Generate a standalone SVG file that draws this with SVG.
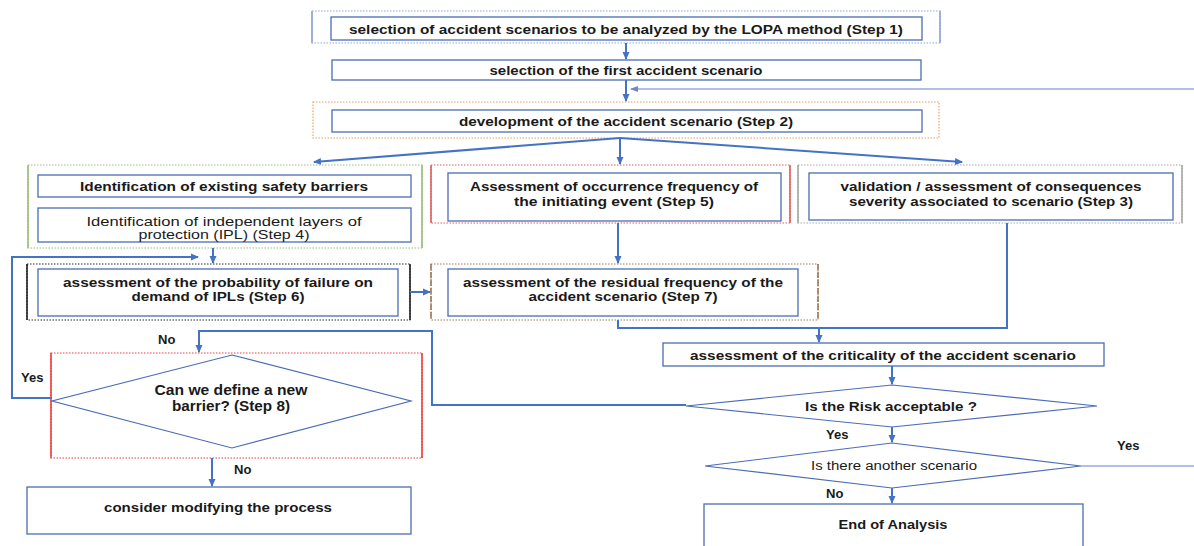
<svg xmlns="http://www.w3.org/2000/svg" width="1194" height="546" viewBox="0 0 1194 546">
<defs>
<marker id="ah" markerWidth="8" markerHeight="8" refX="7" refY="4" orient="auto" markerUnits="userSpaceOnUse">
<path d="M0,0.5 L8,4 L0,7.5 Z" fill="#4472C4"/>
</marker>
<marker id="ahl" markerWidth="8" markerHeight="8" refX="7" refY="4" orient="auto" markerUnits="userSpaceOnUse">
<path d="M0,1 L8,4 L0,7 Z" fill="#6f86cc"/>
</marker>
<style>
.box{fill:#fff;stroke:#4a6db5;stroke-width:1.3}
.dia{fill:#fff;stroke:#4a6db5;stroke-width:1.2}
.out{fill:none;stroke-width:1.2;stroke-dasharray:1.5 1.5}
.side{stroke-width:1.6;fill:none}
.t{font-family:"Liberation Sans",Arial,sans-serif;font-size:13.5px;font-weight:bold;fill:#1a1a1a;text-anchor:middle}
.n{font-weight:normal}
.big{font-size:14px}
.sm{font-size:12px}
.c{fill:none;stroke:#4472C4;stroke-width:2}
.cl{fill:none;stroke:#9aa8dc;stroke-width:1.3}
.lab{font-family:"Liberation Sans",Arial,sans-serif;font-size:13px;font-weight:bold;fill:#1a1a1a}
</style>
</defs>
<rect width="1194" height="546" fill="#fff"/>

<g id="step1">
<rect class="out" x="312" y="11" width="628" height="32" stroke="#8fa3d6"/>
<line class="side" x1="312" y1="11" x2="312" y2="43" stroke="#8fa3d6"/>
<line class="side" x1="940" y1="11" x2="940" y2="43" stroke="#8fa3d6"/>
<rect class="box" x="331" y="17" width="591" height="23"/>
<text class="t" x="626" y="33.5" textLength="554" lengthAdjust="spacingAndGlyphs">selection of accident scenarios to be analyzed by the LOPA method (Step 1)</text>
</g>

<g id="first">
<rect class="box" x="332" y="60" width="589" height="20"/>
<text class="t" x="626" y="75" textLength="273" lengthAdjust="spacingAndGlyphs">selection of the first accident scenario</text>
</g>

<g id="step2">
<rect class="out" x="313" y="102" width="626" height="36" stroke="#f0a060"/>
<rect class="box" x="332" y="110" width="590" height="22"/>
<text class="t" x="626" y="126" textLength="334" lengthAdjust="spacingAndGlyphs">development of the accident scenario (Step 2)</text>
</g>

<g id="step4">
<rect class="out" x="28" y="165" width="394" height="83" stroke="#9cbb7c"/>
<line class="side" x1="28" y1="165" x2="28" y2="248" stroke="#9cbb7c"/>
<line class="side" x1="422" y1="165" x2="422" y2="248" stroke="#9cbb7c"/>
<rect class="box" x="38" y="175" width="373" height="22"/>
<text class="t" x="224" y="191" textLength="288" lengthAdjust="spacingAndGlyphs">Identification of existing safety barriers</text>
<rect class="box" x="38" y="208" width="373" height="34"/>
<text class="t n" x="224" y="225.5" textLength="275" lengthAdjust="spacingAndGlyphs">Identification of independent layers of</text>
<text class="t n" x="224" y="239" textLength="171" lengthAdjust="spacingAndGlyphs">protection (IPL) (Step 4)</text>
</g>

<g id="step5">
<rect class="out" x="431" y="165" width="359" height="58" stroke="#e06060"/>
<line class="side" x1="431" y1="165" x2="431" y2="223" stroke="#e06060"/>
<line class="side" x1="790" y1="165" x2="790" y2="223" stroke="#e06060"/>
<rect class="box" x="448" y="173" width="333" height="48"/>
<text class="t" x="614" y="190.5" textLength="288" lengthAdjust="spacingAndGlyphs">Assessment of occurrence frequency of</text>
<text class="t" x="614" y="205.5" textLength="200" lengthAdjust="spacingAndGlyphs">the initiating event (Step 5)</text>
</g>

<g id="step3">
<rect class="out" x="798" y="165" width="384" height="58" stroke="#a8a8a8"/>
<line class="side" x1="798" y1="165" x2="798" y2="223" stroke="#a8a8a8"/>
<line class="side" x1="1182" y1="165" x2="1182" y2="223" stroke="#a8a8a8"/>
<rect class="box" x="809" y="173" width="364" height="47"/>
<text class="t" x="991" y="190.5" textLength="301" lengthAdjust="spacingAndGlyphs">validation / assessment of consequences</text>
<text class="t" x="991" y="205.5" textLength="284" lengthAdjust="spacingAndGlyphs">severity associated to scenario (Step 3)</text>
</g>

<g id="step6">
<rect class="out" x="27" y="264" width="383" height="56" stroke="#333"/>
<line class="side" x1="27" y1="264" x2="27" y2="320" stroke="#222"/>
<line class="side" x1="410" y1="264" x2="410" y2="320" stroke="#222"/>
<rect class="box" x="38" y="269" width="360" height="47"/>
<text class="t" x="218" y="286.5" textLength="310" lengthAdjust="spacingAndGlyphs">assessment of the probability of failure on</text>
<text class="t" x="218" y="300.5" textLength="173" lengthAdjust="spacingAndGlyphs">demand of IPLs (Step 6)</text>
</g>

<g id="step7">
<rect class="out" x="431" y="264" width="387" height="56" stroke="#a07a5a"/>
<line class="side" x1="431" y1="264" x2="431" y2="320" stroke="#a07a5a" stroke-dasharray="6 2"/>
<line class="side" x1="818" y1="264" x2="818" y2="320" stroke="#a07a5a" stroke-dasharray="6 2"/>
<rect class="box" x="448" y="269" width="350" height="47"/>
<text class="t" x="623" y="286.5" textLength="320" lengthAdjust="spacingAndGlyphs">assessment of the residual frequency of the</text>
<text class="t" x="623" y="300.5" textLength="189" lengthAdjust="spacingAndGlyphs">accident scenario (Step 7)</text>
</g>

<g id="criticality">
<rect class="box" x="663" y="343" width="441" height="23"/>
<text class="t" x="883" y="359.5" textLength="386" lengthAdjust="spacingAndGlyphs">assessment of the criticality of the accident scenario</text>
</g>

<g id="step8">
<rect class="out" x="51" y="353" width="371" height="105" stroke="#f04040"/>
<line class="side" x1="51" y1="353" x2="51" y2="458" stroke="#f04040"/>
<line class="side" x1="422" y1="353" x2="422" y2="458" stroke="#f04040"/>
<polygon class="dia" points="232,355 411,401 232,448 52,401"/>
<text class="t big" x="231" y="395" textLength="153" lengthAdjust="spacingAndGlyphs">Can we define a new</text>
<text class="t big" x="231" y="410.5" textLength="118" lengthAdjust="spacingAndGlyphs">barrier? (Step 8)</text>
</g>

<g id="modify">
<rect class="box" x="27" y="487" width="384" height="47"/>
<text class="t" x="218" y="511.5" textLength="228" lengthAdjust="spacingAndGlyphs">consider modifying the process</text>
</g>

<g id="risk">
<polygon class="dia" points="892,385 1097,406 892,427 686,406"/>
<text class="t" x="891" y="410.5" textLength="172" lengthAdjust="spacingAndGlyphs">Is the Risk acceptable ?</text>
</g>

<g id="another">
<polygon class="dia" points="892,443 1081,466 892,488 705,466"/>
<text class="t n sm" x="894" y="470" textLength="166" lengthAdjust="spacingAndGlyphs">Is there another scenario</text>
</g>

<g id="end">
<rect class="box" x="704" y="504" width="379" height="50"/>
<text class="t" x="893" y="528.5" textLength="109" lengthAdjust="spacingAndGlyphs">End of Analysis</text>
</g>

<g id="connectors">
<line class="c" x1="626" y1="43" x2="626" y2="59" marker-end="url(#ah)"/>
<line class="c" x1="626" y1="80" x2="626" y2="101" marker-end="url(#ah)"/>
<line class="cl" x1="1194" y1="89" x2="631" y2="89" marker-end="url(#ahl)"/>
<line class="c" x1="620" y1="138" x2="314" y2="162" marker-end="url(#ah)"/>
<line class="c" x1="620" y1="138" x2="620" y2="164" marker-end="url(#ah)"/>
<line class="c" x1="620" y1="138" x2="962" y2="162" marker-end="url(#ah)"/>
<line class="c" x1="213" y1="248" x2="213" y2="263" marker-end="url(#ah)"/>
<line class="c" x1="618" y1="223" x2="618" y2="263" marker-end="url(#ah)"/>
<line class="c" x1="410" y1="292" x2="430" y2="292" marker-end="url(#ah)"/>
<polyline class="c" points="618,320 618,328 1007,328 1007,223"/>
<line class="c" x1="819" y1="328" x2="819" y2="342" marker-end="url(#ah)"/>
<line class="c" x1="892" y1="366" x2="892" y2="384" marker-end="url(#ah)"/>
<polyline class="c" points="686,405 432,405 432,331 199,331 199,352" marker-end="url(#ah)"/>
<polyline class="c" points="52,398 12,398 12,257 198,257" marker-end="url(#ah)"/>
<line class="c" x1="212" y1="458" x2="212" y2="486" marker-end="url(#ah)"/>
<line class="c" x1="892" y1="427" x2="892" y2="442" marker-end="url(#ah)"/>
<line class="cl" x1="1081" y1="466" x2="1194" y2="466"/>
<line class="c" x1="892" y1="488" x2="892" y2="503" marker-end="url(#ah)"/>
<text class="lab" x="158" y="344">No</text>
<text class="lab" x="21" y="382">Yes</text>
<text class="lab" x="234" y="474">No</text>
<text class="lab" x="826" y="439">Yes</text>
<text class="lab" x="1117" y="450">Yes</text>
<text class="lab" x="826" y="498">No</text>
</g>
</svg>
